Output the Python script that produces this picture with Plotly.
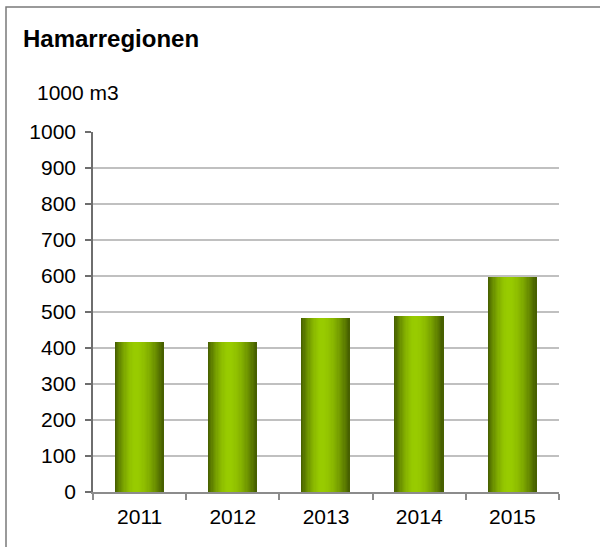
import plotly.graph_objects as go

# ---- data ----
years = ["2011", "2012", "2013", "2014", "2015"]
volumes = [416, 416, 483, 489, 597]
y_ticks = [0, 100, 200, 300, 400, 500, 600, 700, 800, 900, 1000]
title_text = "Hamarregionen"
unit_text = "1000 m3"

# ---- style ----
W, H = 600, 547
ML, MR, MT, MB = 93, 41, 132, 55
FONT = "Liberation Sans, Arial, sans-serif"
DARK = (0x44, 0x5c, 0x00)
LIGHT = (0x99, 0xCC, 0x00)
BAR_W = 0.52
N_STRIPES = 40
PEAK = 0.43


def shade(t):
    # brightness profile across bar width (0 = left edge, 1 = right edge)
    if t <= PEAK:
        u = (PEAK - t) / PEAK
    else:
        u = (t - PEAK) / (1 - PEAK)
    f = max(0.0, 1 - u ** 1.8)
    r, g, b = (int(DARK[k] + (LIGHT[k] - DARK[k]) * f) for k in range(3))
    return f"rgb({r},{g},{b})"


fig = go.Figure()
# base bar
fig.add_trace(go.Bar(x=years, y=volumes, width=BAR_W,
                     marker=dict(color=shade(0.0), line=dict(width=0)),
                     hoverinfo="skip", showlegend=False))
sw = BAR_W / N_STRIPES
for i in range(N_STRIPES):
    t = (i + 0.5) / N_STRIPES
    fig.add_trace(go.Bar(x=years, y=volumes, width=sw * 1.4,
                         offset=-BAR_W / 2 + i * sw - (0.2 * sw if i > 0 else 0),
                         marker=dict(color=shade(t), line=dict(width=0)),
                         hoverinfo="skip", showlegend=False))

pw = W - ML - MR
ph = H - MT - MB


def px_x(x):
    return (x - ML) / pw


def px_y(y):
    return 1 - (y - MT) / ph


fig.update_layout(
    width=W, height=H,
    margin=dict(l=ML, r=MR, t=MT, b=MB, pad=0),
    paper_bgcolor="white", plot_bgcolor="white",
    barmode="overlay", bargap=0,
    font=dict(family=FONT, size=21, color="black"),
    showlegend=False,
    xaxis=dict(type="category", showgrid=False, showline=True,
               linecolor="#8c8c8c", linewidth=1.5,
               ticks="outside", tickson="boundaries", ticklen=6,
               tickcolor="#8c8c8c", tickwidth=1.5,
               tickfont=dict(size=21), ticklabelstandoff=5),
    yaxis=dict(range=[0, 1000], tickvals=y_ticks, showgrid=True,
               gridcolor="#c0c0c0", gridwidth=2, showline=True,
               linecolor="#6e6e6e", linewidth=1.5, ticks="outside",
               ticklen=6, tickcolor="#6e6e6e", tickwidth=1.5,
               tickfont=dict(size=21), zeroline=False,
               ticklabelstandoff=5),
    annotations=[
        dict(text=f"<b>{title_text}</b>", xref="paper", yref="paper",
             x=px_x(21), y=px_y(38), xanchor="left", yanchor="middle",
             showarrow=False, font=dict(size=24, family=FONT)),
        dict(text=unit_text, xref="paper", yref="paper",
             x=px_x(35), y=px_y(93), xanchor="left", yanchor="middle",
             showarrow=False, font=dict(size=21, family=FONT)),
    ],
    shapes=[
        dict(type="rect", xref="paper", yref="paper",
             x0=px_x(6), x1=px_x(640), y0=px_y(600), y1=px_y(7),
             line=dict(color="#7a7a7a", width=1.5), fillcolor="rgba(0,0,0,0)",
             layer="below"),
    ],
)

fig.write_html("out.html", config={"displayModeBar": False},
               post_script="document.body.style.margin='0';document.body.style.overflow='hidden';")
